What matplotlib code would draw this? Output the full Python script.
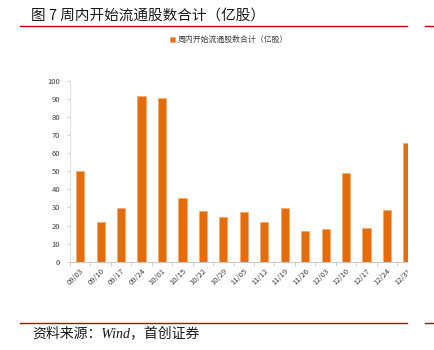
import matplotlib.pyplot as plt
from matplotlib.lines import Line2D
from matplotlib.patches import Rectangle

plt.rcParams['font.family'] = ['Noto Sans CJK SC', 'DejaVu Sans']

weeks = ["09/03", "09/10", "09/17", "09/24", "10/01", "10/15", "10/22", "10/29",
         "11/05", "11/12", "11/19", "11/26", "12/03", "12/10", "12/17", "12/24", "12/31"]
shares = [50.1, 22.1, 29.9, 91.7, 90.4, 35.1, 28.1, 24.7,
          27.7, 21.8, 29.5, 17.2, 17.9, 49.3, 18.5, 28.6, 65.9]
series_name = "周内开始流通股数合计（亿股）"

W, H = 434, 350
fig = plt.figure(figsize=(W / 100, H / 100), dpi=100)

def fx(px):
    return px / W

def fy(py):
    return 1 - py / H

ax = fig.add_axes([fx(70), fy(261.7), fx(408 - 70), fy(81) - fy(261.7)])
x = list(range(len(weeks)))
ax.bar(x, shares, width=0.4, color="#E46C0A", edgecolor="#F2A66A", linewidth=0.4,
       label=series_name, zorder=3)
ax.set_xlim(-0.5, 16.03)
ax.set_ylim(0, 100)
ax.set_yticks(range(0, 101, 10))
ax.tick_params(axis='y', labelsize=5.5, colors="#404040", length=2, width=0.5, pad=5,
               color="#BFBFBF")
ax.set_xticks(x)
ax.set_xticklabels(weeks, rotation=45, ha='right', rotation_mode='anchor',
                   fontsize=5.5, color="#404040")
ax.tick_params(axis='x', length=0, pad=4)
ax.set_xticks([i + 0.5 for i in range(-1, len(weeks) - 1)], minor=True)
ax.tick_params(axis='x', which='minor', length=3, width=0.5, color="#BFBFBF")
for side in ("top", "right"):
    ax.spines[side].set_visible(False)
ax.spines["left"].set_color("#D9D9D9")
ax.spines["bottom"].set_color("#BFBFBF")
ax.spines["left"].set_linewidth(0.6)
ax.spines["bottom"].set_linewidth(0.6)

# the chart panel is cut off on the right
fig.add_artist(Rectangle((fx(408), fy(318)), fx(17), fy(30) - fy(318),
                         facecolor="white", edgecolor="none", zorder=10))

# legend centred above the plot
fig.legend(loc='center', bbox_to_anchor=(fx(229), fy(39.5)), frameon=False,
           fontsize=5.7, handlelength=0.6, handleheight=0.6, handletextpad=0.4,
           labelcolor="#404040")

# title and red rules
fig.text(fx(31), fy(16), "图 7 周内开始流通股数合计（亿股）", fontsize=10.5,
         color="#1a1a1a", va='center', ha='left')
for yy in (25.8, 322.7):
    fig.add_artist(Line2D([fx(20), fx(407)], [fy(yy), fy(yy)], color="#C00000", lw=1.0))
    fig.add_artist(Line2D([fx(425), fx(434)], [fy(yy), fy(yy)], color="#C00000", lw=1.0))

fig.text(fx(32), fy(333), "资料来源：Wind，首创证券", fontsize=10, style='italic',
         family=['Liberation Serif', 'Noto Sans CJK SC'], color="#1a1a1a",
         va='center', ha='left')

fig.savefig("out.png", dpi=100, facecolor="white")
